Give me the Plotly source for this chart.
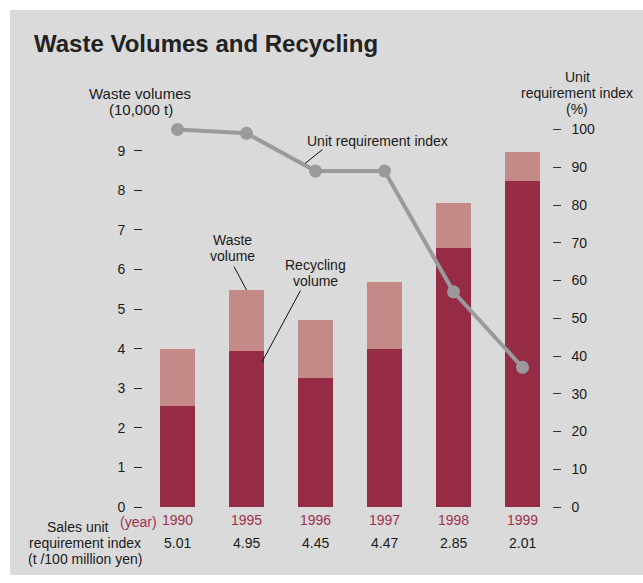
import plotly.graph_objects as go

# ---- data -------------------------------------------------------------
years = ["1990", "1995", "1996", "1997", "1998", "1999"]
recycling_volume = [2.54, 3.95, 3.27, 4.00, 6.55, 8.22]   # 10,000 t
waste_total = [3.98, 5.47, 4.71, 5.69, 7.67, 8.97]        # 10,000 t
unit_requirement_index = [100, 99, 89, 89, 57, 37]        # %
sales_unit_index = ["5.01", "4.95", "4.45", "4.47", "2.85", "2.01"]  # t / 100 million yen

left_ticks = list(range(0, 10))
right_ticks = list(range(0, 101, 10))

# ---- styling -----------------------------------------------------------
W, H = 643, 583
VSCALE = 583 / 575.0   # vertical layout stretch
FONT = "Liberation Sans, Arial, Helvetica, sans-serif"
DARK = "#952b45"
LIGHT = "#c48a88"
YEAR_RED = "#a0304f"
LINE_GREY = "#9a9a9c"
BG = "#dadada"

# plot area in layout pixels
PL, PR, PT, PB = 143, 551.7, 120, 507
px_unit_left = 39.6
px_unit_right = 3.775


def fx(px):
    return px / W


def fy(py):
    return (H - py * VSCALE) / H


waste_part = [t - r for t, r in zip(waste_total, recycling_volume)]

fig = go.Figure()
fig.add_trace(go.Bar(x=years, y=recycling_volume, marker=dict(color=DARK, line=dict(width=0)),
                     width=0.51, name="Recycling volume"))
fig.add_trace(go.Bar(x=years, y=waste_part, marker=dict(color=LIGHT, line=dict(width=0)),
                     width=0.51, name="Waste volume"))
fig.add_trace(go.Scatter(x=years, y=unit_requirement_index, yaxis="y2", mode="lines+markers",
                         line=dict(color=LINE_GREY, width=4),
                         marker=dict(color=LINE_GREY, size=13),
                         cliponaxis=False, name="Unit requirement index"))

x_hi = (PR - (PL + 34.5)) / 69.0

fig.update_layout(
    width=W, height=H,
    margin=dict(l=0, r=0, t=0, b=0),
    paper_bgcolor="white",
    plot_bgcolor="rgba(0,0,0,0)",
    barmode="stack",
    showlegend=False,
    font=dict(family=FONT, size=14, color="#1a1a1a"),
    xaxis=dict(domain=[fx(PL), fx(PR)], range=[-0.5, x_hi], type="category",
               showgrid=False, zeroline=False, showline=False, ticks="",
               tickfont=dict(color=YEAR_RED, size=14), ticklabelstandoff=3),
    yaxis=dict(domain=[fy(PB), fy(PT)], range=[0, (PB - PT) / px_unit_left],
               tickvals=left_ticks, showgrid=False, zeroline=False, showline=False,
               ticks="outside", ticklen=8, tickwidth=1, tickcolor="#222",
               ticklabelstandoff=6, tickfont=dict(size=14)),
    yaxis2=dict(domain=[fy(PB), fy(PT)], range=[0, (PB - PT) / px_unit_right],
                overlaying="y", side="right", anchor="x",
                tickvals=right_ticks, showgrid=False, zeroline=False, showline=False,
                ticks="outside", ticklen=8, tickwidth=1, tickcolor="#333",
                ticklabelstandoff=8, tickfont=dict(size=14)),
)

# background panel
fig.add_shape(type="rect", xref="paper", yref="paper",
              x0=fx(10), x1=fx(W), y0=max(fy(577), 0), y1=fy(10),
              fillcolor=BG, line=dict(width=0), layer="below")

annotations = []


def text(s, x, y, anchor="center", color="#1a1a1a", size=14, bold=False, xref="paper"):
    annotations.append(dict(
        text=f"<b>{s}</b>" if bold else s, xref=xref, yref="paper",
        x=fx(x) if xref == "paper" else x, y=fy(y), xanchor=anchor, yanchor="middle",
        showarrow=False, font=dict(family=FONT, size=size, color=color)))


text("Waste Volumes and Recycling", 32, 43, anchor="left", size=24, bold=True, color="#222")

text("Waste volumes", 140, 93, size=15)
text("(10,000 t)", 141, 109, size=15)

text("Unit", 577, 77)
text("requirement index", 577, 93)
text("(%)", 577, 109)

text("Unit requirement index", 377, 141)
text("Waste", 232, 240)
text("volume", 232, 256)
text("Recycling", 315, 265)
text("volume", 315, 281)

text("(year)", 158.5, 522, anchor="right", color=YEAR_RED)
text("Sales unit", 78, 527)
text("requirement index", 84.5, 543)
text("(t /100 million yen)", 85, 559)

# sales unit requirement index under each year
for i, v in enumerate(sales_unit_index):
    text(v, i, 543.5, xref="x")

fig.update_layout(annotations=annotations)

# leader lines
for (x0, y0, x1, y1) in [(234, 266.5, 246.5, 290), (300.5, 290.5, 262, 362),
                         (322.5, 149.5, 305, 163.5)]:
    fig.add_shape(type="line", xref="paper", yref="paper",
                  x0=fx(x0), y0=fy(y0), x1=fx(x1), y1=fy(y1),
                  line=dict(color="#111", width=1))

fig.write_html("out.html")
